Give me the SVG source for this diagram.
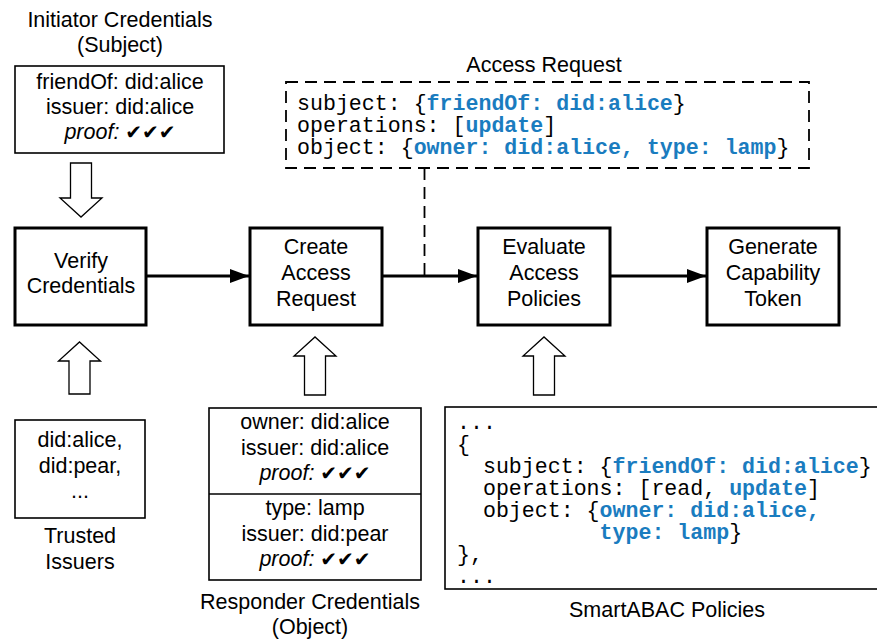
<svg xmlns="http://www.w3.org/2000/svg" width="877" height="644" viewBox="0 0 877 644">
<style>
.s{font-family:"Liberation Sans",Arial,sans-serif;font-size:21.5px;fill:#000;text-anchor:middle}
.m{font-family:"Liberation Mono","Courier New",monospace;font-size:21.6px;fill:#000;white-space:pre}
.b{fill:#1a7cbf;font-weight:bold}
.i{font-style:italic}
.ck{font-family:"DejaVu Sans",sans-serif;font-size:20px}
.thick{fill:#fff;stroke:#000;stroke-width:3}
.thin{fill:#fff;stroke:#000;stroke-width:1.6}
.hollow{fill:#fff;stroke:#000;stroke-width:1.3}
.flow{stroke:#000;stroke-width:3;fill:none}
.dash{stroke:#000;stroke-width:1.8;stroke-dasharray:12,7}
</style>
<defs>
<marker id="ah" markerUnits="userSpaceOnUse" markerWidth="20" markerHeight="14" refX="19" refY="7" orient="auto">
<path d="M0,0 L19,7 L0,14 z" fill="#000"/>
</marker>
</defs>

<g id="initiator">
<text class="s" x="120" y="27">Initiator Credentials</text>
<text class="s" x="120" y="52">(Subject)</text>
<rect class="thin" x="15" y="66" width="209" height="87"/>
<text class="s" x="120" y="89">friendOf: did:alice</text>
<text class="s" x="120" y="114">issuer: did:alice</text>
<text class="s" x="120" y="139"><tspan class="i">proof:</tspan> <tspan class="ck">✔✔✔</tspan></text>
</g>

<g id="verify">
<rect class="thick" x="15" y="228" width="131" height="97"/>
<text class="s" x="81" y="268">Verify</text>
<text class="s" x="81" y="293">Credentials</text>
</g>

<g id="create">
<rect class="thick" x="250" y="228" width="132" height="97"/>
<text class="s" x="316" y="254">Create</text>
<text class="s" x="316" y="280">Access</text>
<text class="s" x="316" y="306">Request</text>
</g>

<g id="evaluate">
<rect class="thick" x="478" y="228" width="132" height="97"/>
<text class="s" x="544" y="254">Evaluate</text>
<text class="s" x="544" y="280">Access</text>
<text class="s" x="544" y="306">Policies</text>
</g>

<g id="generate">
<rect class="thick" x="707" y="228" width="132" height="97"/>
<text class="s" x="773" y="254">Generate</text>
<text class="s" x="773" y="280">Capability</text>
<text class="s" x="773" y="306">Token</text>
</g>

<g id="access-request">
<text class="s" x="544" y="72">Access Request</text>
<rect class="dash" x="286" y="82" width="523" height="86" fill="#fff"/>
<text class="m" x="297" y="110">subject: {<tspan class="b">friendOf: did:alice</tspan>}</text>
<text class="m" x="297" y="132">operations: [<tspan class="b">update</tspan>]</text>
<text class="m" x="297" y="154">object: {<tspan class="b">owner: did:alice, type: lamp</tspan>}</text>
</g>

<g id="trusted-issuers">
<rect class="thin" x="15" y="420" width="130" height="98"/>
<text class="s" x="80" y="447">did:alice,</text>
<text class="s" x="80" y="473">did:pear,</text>
<text class="s" x="80" y="498">...</text>
<text class="s" x="80" y="543">Trusted</text>
<text class="s" x="80" y="569">Issuers</text>
</g>

<g id="responder">
<rect class="thin" x="209" y="408" width="212" height="172"/>
<line x1="209" y1="494" x2="421" y2="494" stroke="#000" stroke-width="1.6"/>
<text class="s" x="315" y="429">owner: did:alice</text>
<text class="s" x="315" y="455">issuer: did:alice</text>
<text class="s" x="315" y="480"><tspan class="i">proof:</tspan> <tspan class="ck">✔✔✔</tspan></text>
<text class="s" x="315" y="515">type: lamp</text>
<text class="s" x="315" y="541">issuer: did:pear</text>
<text class="s" x="315" y="566"><tspan class="i">proof:</tspan> <tspan class="ck">✔✔✔</tspan></text>
<text class="s" x="310" y="609">Responder Credentials</text>
<text class="s" x="310" y="634">(Object)</text>
</g>

<g id="policies">
<rect class="thin" x="445" y="407" width="440" height="182"/>
<text class="m" x="457" y="429">...</text>
<text class="m" x="457" y="451">{</text>
<text class="m" x="457" y="473">  subject: {<tspan class="b">friendOf: did:alice</tspan>}</text>
<text class="m" x="457" y="495">  operations: [read, <tspan class="b">update</tspan>]</text>
<text class="m" x="457" y="517">  object: {<tspan class="b">owner: did:alice,</tspan></text>
<text class="m" x="457" y="539">           <tspan class="b">type: lamp</tspan>}</text>
<text class="m" x="457" y="561">},</text>
<text class="m" x="457" y="583">...</text>
<text class="s" x="667" y="617">SmartABAC Policies</text>
</g>

<g id="connectors">
<line class="flow" x1="146" y1="276" x2="249" y2="276" marker-end="url(#ah)"/>
<line class="flow" x1="382" y1="276" x2="477" y2="276" marker-end="url(#ah)"/>
<line class="flow" x1="610" y1="276" x2="706" y2="276" marker-end="url(#ah)"/>
<line class="dash" x1="424.5" y1="168" x2="424.5" y2="276"/>
<path class="hollow" d="M70.5,163 H91.5 V198 H102 L81,217 L60,198 H70.5 Z"/>
<path class="hollow" d="M69,394 V361 H58.5 L79.5,342 L100.5,361 H90 V394 Z"/>
<path class="hollow" d="M304.5,395 V356 H294 L315,337 L336,356 H325.5 V395 Z"/>
<path class="hollow" d="M533.5,395 V356 H523 L544,337 L565,356 H554.5 V395 Z"/>
</g>
</svg>
